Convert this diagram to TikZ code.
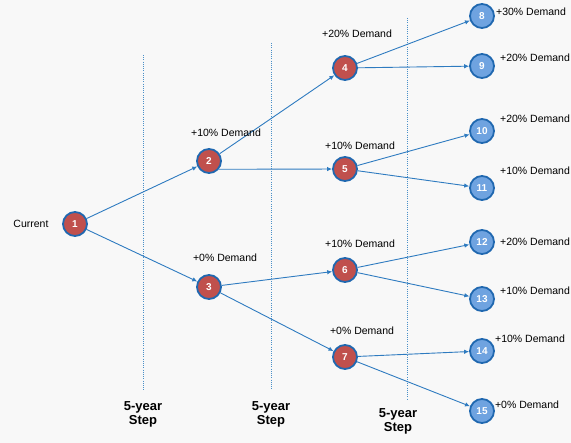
\documentclass[tikz,border=0pt]{standalone}
\usepackage{fontspec}
\setmainfont{Liberation Sans}
\usetikzlibrary{arrows.meta}
\definecolor{bg}{HTML}{F8F8F8}
\definecolor{edge}{HTML}{2E7BC0}
\definecolor{rednode}{HTML}{C0504D}
\definecolor{bluenode}{HTML}{6FA3E0}
\definecolor{ring}{HTML}{2068B0}
\definecolor{dots}{HTML}{4A90C8}
\tikzset{
  rnode/.style={circle,draw=ring,line width=1.8pt,fill=rednode,minimum size=24pt,inner sep=0pt,text=white,font=\bfseries\fontsize{10}{10}\selectfont},
  bnode/.style={circle,draw=ring,line width=1.8pt,fill=bluenode,minimum size=24pt,inner sep=0pt,text=white,font=\bfseries\fontsize{10}{10}\selectfont},
  conn/.style={draw=edge,line width=0.9pt,-{Latex[length=5pt,width=4.5pt]}},
  lab/.style={font=\fontsize{10.5}{12}\selectfont,text=black,inner sep=0pt},
  steplab/.style={font=\bfseries\fontsize{13}{14}\selectfont,align=center,inner sep=0pt},
  divider/.style={draw=dots,line width=0.9pt,dash pattern=on 1pt off 1.2pt}
}
\begin{document}
\begin{tikzpicture}[x=1pt,y=-1pt]
\useasboundingbox[fill=bg] (0,0) rectangle (571,443);
% dividers
\coordinate (d1a) at (143,55); \coordinate (d1b) at (143,390);
\coordinate (d2a) at (271,43); \coordinate (d2b) at (271,390);
\coordinate (d3a) at (407,18); \coordinate (d3b) at (407,400);
\draw[divider] (d1a) -- (d1b);
\draw[divider] (d2a) -- (d2b);
\draw[divider] (d3a) -- (d3b);
% nodes
\node[rnode] (n1) at (75,224) {1};
\node[rnode] (n2) at (209,161) {2};
\node[rnode] (n3) at (209,287) {3};
\node[rnode] (n4) at (345,68) {4};
\node[rnode] (n5) at (345,169) {5};
\node[rnode] (n6) at (345,270) {6};
\node[rnode] (n7) at (345,357) {7};
\node[bnode] (n8) at (482,16) {8};
\node[bnode] (n9) at (482,66) {9};
\node[bnode] (n10) at (482,131) {10};
\node[bnode] (n11) at (482,188) {11};
\node[bnode] (n12) at (482,242) {12};
\node[bnode] (n13) at (482,299) {13};
\node[bnode] (n14) at (482,351) {14};
\node[bnode] (n15) at (482,411) {15};
% connectors
\draw[conn] (n1) -- (n2);
\draw[conn] (n1) -- (n3);
\draw[conn] (n2) -- (n4);
\draw[conn] (n2.-40) -- (n5);
\draw[conn] (n3) -- (n6);
\draw[conn] (n3) -- (n7);
\draw[conn] (n4) -- (n8);
\draw[conn] (n4) -- (n9);
\draw[conn] (n5) -- (n10);
\draw[conn] (n5) -- (n11);
\draw[conn] (n6) -- (n12);
\draw[conn] (n6) -- (n13);
\draw[conn] (n7) -- (n14);
\draw[conn] (n7) -- (n15);
% labels
\node[lab] (lc) at (31,224) {Current};
\node[lab] (l2) at (226,133) {+10\% Demand};
\node[lab] (l3) at (225,258) {+0\% Demand};
\node[lab] (l4) at (357,34) {+20\% Demand};
\node[lab] (l5) at (360,146) {+10\% Demand};
\node[lab] (l6) at (360,244) {+10\% Demand};
\node[lab] (l7) at (362,331) {+0\% Demand};
\node[lab] (l8) at (531,12) {+30\% Demand};
\node[lab] (l9) at (535,58) {+20\% Demand};
\node[lab] (l10) at (535,119) {+20\% Demand};
\node[lab] (l11) at (535,171) {+10\% Demand};
\node[lab] (l12) at (535,242) {+20\% Demand};
\node[lab] (l13) at (535,291) {+10\% Demand};
\node[lab] (l14) at (530,339) {+10\% Demand};
\node[lab] (l15) at (527,405) {+0\% Demand};
\node[steplab] (s1) at (143,414) {5-year\\Step};
\node[steplab] (s2) at (271,414) {5-year\\Step};
\node[steplab] (s3) at (398,421) {5-year\\Step};
\end{tikzpicture}
\end{document}
